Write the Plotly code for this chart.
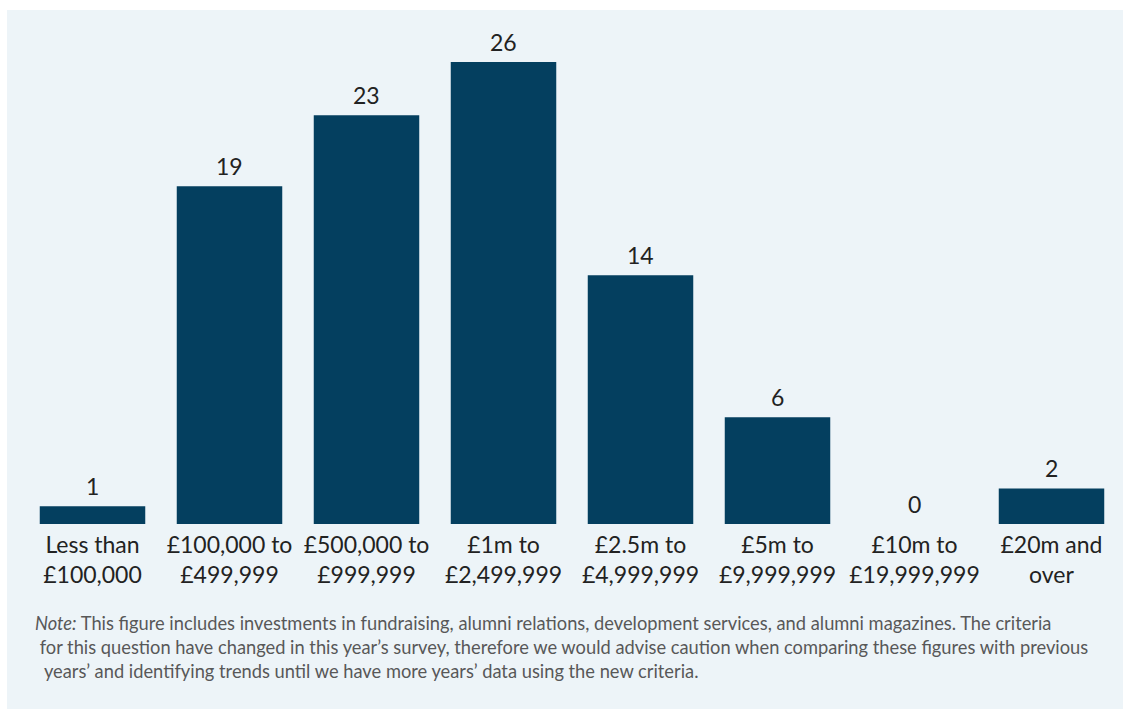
import plotly.graph_objects as go

# Investment bands and number of institutions in each
categories = [
    "Less than<br>£100,000",
    "£100,000 to<br>£499,999",
    "£500,000 to<br>£999,999",
    "£1m to<br>£2,499,999",
    "£2.5m to<br>£4,999,999",
    "£5m to<br>£9,999,999",
    "£10m to<br>£19,999,999",
    "£20m and<br>over",
]
counts = [1, 19, 23, 26, 14, 6, 0, 2]

note_lines = [
    "<i>Note:</i> This figure includes investments in fundraising, alumni relations, development services, and alumni magazines. The criteria",
    " for this question have changed in this year’s survey, therefore we would advise caution when comparing these figures with previous",
    "  years’ and identifying trends until we have more years’ data using the new criteria.",
]

BAR = "#043f5f"
PANEL = "#edf4f8"
FONT = "Lato, 'Open Sans', sans-serif"
TEXT = "#222222"

W, H = 1130, 709
ML, MR, MT, MB = 24, 10, 26, 185
plot_w = W - ML - MR
plot_h = H - MT - MB


def px_x(p):
    return (p - ML) / plot_w


def px_y(p):
    return (H - MB - p) / plot_h


x_idx = list(range(len(categories)))

fig = go.Figure(
    go.Bar(
        x=x_idx,
        y=counts,
        marker=dict(color=BAR, line=dict(width=0)),
        width=0.77,
        hoverinfo="skip",
    )
)

# value labels above each bar
for i, v in zip(x_idx, counts):
    fig.add_annotation(
        x=i, y=v, text=str(v),
        xref="x", yref="y",
        showarrow=False,
        yanchor="middle", yshift=20,
        font=dict(family=FONT, size=23, color=TEXT),
    )

fig.update_xaxes(
    tickmode="array",
    tickvals=x_idx,
    ticktext=categories,
    range=[-0.5, len(categories) - 0.5],
    showgrid=False,
    showline=False,
    zeroline=False,
    ticks="",
    ticklabelstandoff=5,
    tickfont=dict(family=FONT, size=23, color=TEXT),
)
fig.update_yaxes(
    range=[0, 28.02],
    visible=False,
    showgrid=False,
    zeroline=False,
)

# light panel behind the whole figure
fig.add_shape(
    type="rect",
    xref="paper", yref="paper",
    x0=px_x(7), x1=px_x(1123), y0=px_y(712), y1=px_y(10),
    fillcolor=PANEL, line=dict(width=0), layer="below",
)

for i, line in enumerate(note_lines):
    fig.add_annotation(
        text=line,
        xref="paper", yref="paper",
        x=px_x(33), y=px_y(623 + 24 * i),
        xanchor="left", yanchor="middle",
        showarrow=False,
        align="left",
        font=dict(family=FONT, size=18.3, color="#585858"),
    )

fig.update_layout(
    width=W,
    height=H,
    margin=dict(l=ML, r=MR, t=MT, b=MB, pad=0),
    paper_bgcolor="white",
    plot_bgcolor="rgba(0,0,0,0)",
    showlegend=False,
    bargap=0.23,
)

fig.write_html("out.html", config={"displayModeBar": False})
